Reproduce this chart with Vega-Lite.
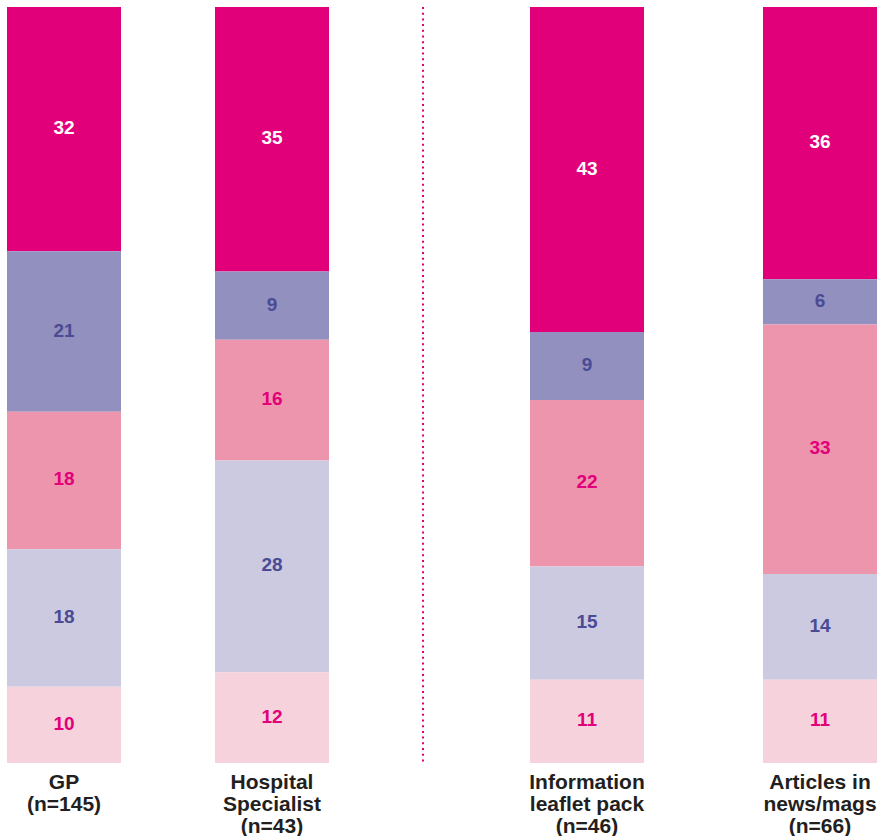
{
  "$schema": "https://vega.github.io/schema/vega-lite/v6.json",
  "padding": {"left": 7, "top": 6, "right": 0, "bottom": 0},
  "spacing": 10,
  "background": "white",
  "config": {
    "view": {"stroke": null},
    "axisX": {
      "labelExpr": "split(datum.label, '|')",
      "labelAngle": 0,
      "domain": false,
      "ticks": false,
      "grid": false,
      "labelFont": "Liberation Sans",
      "labelFontSize": 21,
      "labelFontWeight": "bold",
      "labelColor": "#231F20",
      "labelLineHeight": 22,
      "labelPadding": 8,
      "labelOverlap": false,
      "labelBound": false,
      "labelFlush": false,
      "labelLimit": 0,
      "title": null
    }
  },
  "data": {
    "values": [
      {"cat": "GP|(n=145)", "seg": 1, "v": 32},
      {"cat": "GP|(n=145)", "seg": 2, "v": 21},
      {"cat": "GP|(n=145)", "seg": 3, "v": 18},
      {"cat": "GP|(n=145)", "seg": 4, "v": 18},
      {"cat": "GP|(n=145)", "seg": 5, "v": 10},
      {"cat": "Hospital|Specialist|(n=43)", "seg": 1, "v": 35},
      {"cat": "Hospital|Specialist|(n=43)", "seg": 2, "v": 9},
      {"cat": "Hospital|Specialist|(n=43)", "seg": 3, "v": 16},
      {"cat": "Hospital|Specialist|(n=43)", "seg": 4, "v": 28},
      {"cat": "Hospital|Specialist|(n=43)", "seg": 5, "v": 12},
      {"cat": "Information|leaflet pack|(n=46)", "seg": 1, "v": 43},
      {"cat": "Information|leaflet pack|(n=46)", "seg": 2, "v": 9},
      {"cat": "Information|leaflet pack|(n=46)", "seg": 3, "v": 22},
      {"cat": "Information|leaflet pack|(n=46)", "seg": 4, "v": 15},
      {"cat": "Information|leaflet pack|(n=46)", "seg": 5, "v": 11},
      {"cat": "Articles in|news/mags|(n=66)", "seg": 1, "v": 36},
      {"cat": "Articles in|news/mags|(n=66)", "seg": 2, "v": 6},
      {"cat": "Articles in|news/mags|(n=66)", "seg": 3, "v": 33},
      {"cat": "Articles in|news/mags|(n=66)", "seg": 4, "v": 14},
      {"cat": "Articles in|news/mags|(n=66)", "seg": 5, "v": 11}
    ]
  },
  "hconcat": [
    {
      "width": 322,
      "height": 756,
      "transform": [{"filter": {"field": "cat", "oneOf": ["GP|(n=145)", "Hospital|Specialist|(n=43)"]}}],
      "encoding": {
        "x": {
          "field": "cat",
          "type": "nominal",
          "scale": {"domain": ["GP|(n=145)", "Hospital|Specialist|(n=43)"], "paddingInner": 0.4519, "paddingOuter": 0}
        }
      },
      "layer": [
        {
          "mark": {"type": "bar"},
          "encoding": {
            "y": {"field": "v", "type": "quantitative", "stack": "normalize", "scale": {"domain": [0, 1]}, "axis": null},
            "color": {"field": "seg", "type": "nominal", "scale": {"domain": [1, 2, 3, 4, 5], "range": ["#E2007A", "#9190BE", "#ED95AD", "#CBCAE1", "#F6D2DC"]}, "legend": null},
            "order": {"field": "seg", "sort": "descending"}
          }
        },
        {
          "transform": [
            {"stack": "v", "groupby": ["cat"], "sort": [{"field": "seg", "order": "descending"}], "offset": "normalize", "as": ["y0", "y1"]},
            {"fold": ["y0", "y1"], "as": ["k", "pos"]},
            {"aggregate": [{"op": "mean", "field": "pos", "as": "pos"}], "groupby": ["cat", "seg", "v"]}
          ],
          "mark": {"type": "text", "font": "Liberation Sans", "fontWeight": "bold", "fontSize": 19, "baseline": "middle", "align": "center", "dy": -1},
          "encoding": {
            "y": {"field": "pos", "type": "quantitative", "scale": {"domain": [0, 1]}, "axis": null},
            "text": {"field": "v", "type": "quantitative"},
            "color": {"field": "seg", "type": "nominal", "scale": {"domain": [1, 2, 3, 4, 5], "range": ["#FFFFFF", "#4A4B94", "#E2007A", "#4A4B94", "#E2007A"]}, "legend": null}
          }
        }
      ],
      "resolve": {"scale": {"color": "independent"}}
    },
    {
      "width": 168,
      "height": 756,
      "data": {"values": [{}]},
      "mark": {"type": "rule", "strokeDash": [2, 3.7], "strokeWidth": 2, "color": "#E2007A"},
      "encoding": {
        "x": {"datum": 0.5, "type": "quantitative", "scale": {"domain": [0, 1]}, "axis": null}
      }
    },
    {
      "width": 360,
      "height": 756,
      "transform": [{"filter": {"field": "cat", "oneOf": ["Information|leaflet pack|(n=46)", "Articles in|news/mags|(n=66)"]}}],
      "encoding": {
        "x": {
          "field": "cat",
          "type": "nominal",
          "scale": {"domain": ["Information|leaflet pack|(n=46)", "Articles in|news/mags|(n=66)"], "paddingInner": 0.5107, "paddingOuter": 0.0279, "align": 1}
        }
      },
      "layer": [
        {
          "mark": {"type": "bar"},
          "encoding": {
            "y": {"field": "v", "type": "quantitative", "stack": "normalize", "scale": {"domain": [0, 1]}, "axis": null},
            "color": {"field": "seg", "type": "nominal", "scale": {"domain": [1, 2, 3, 4, 5], "range": ["#E2007A", "#9190BE", "#ED95AD", "#CBCAE1", "#F6D2DC"]}, "legend": null},
            "order": {"field": "seg", "sort": "descending"}
          }
        },
        {
          "transform": [
            {"stack": "v", "groupby": ["cat"], "sort": [{"field": "seg", "order": "descending"}], "offset": "normalize", "as": ["y0", "y1"]},
            {"fold": ["y0", "y1"], "as": ["k", "pos"]},
            {"aggregate": [{"op": "mean", "field": "pos", "as": "pos"}], "groupby": ["cat", "seg", "v"]}
          ],
          "mark": {"type": "text", "font": "Liberation Sans", "fontWeight": "bold", "fontSize": 19, "baseline": "middle", "align": "center", "dy": -1},
          "encoding": {
            "y": {"field": "pos", "type": "quantitative", "scale": {"domain": [0, 1]}, "axis": null},
            "text": {"field": "v", "type": "quantitative"},
            "color": {"field": "seg", "type": "nominal", "scale": {"domain": [1, 2, 3, 4, 5], "range": ["#FFFFFF", "#4A4B94", "#E2007A", "#4A4B94", "#E2007A"]}, "legend": null}
          }
        }
      ],
      "resolve": {"scale": {"color": "independent"}}
    }
  ]
}
